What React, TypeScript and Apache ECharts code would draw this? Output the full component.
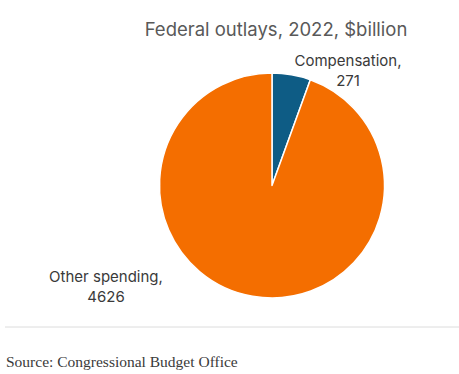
import React, { useEffect, useRef } from "react";
import * as echarts from "echarts";

const categories = ["Compensation", "Other spending"];
const values = [271, 4626];
const colors = ["#0E5C85", "#F46E00"];
const titleText = "Federal outlays, 2022, $billion";
const sourceText = "Source: Congressional Budget Office";
const labelPositions = [
  [348, 70],
  [106, 286],
];

export default function App() {
  const ref = useRef<HTMLDivElement>(null);
  useEffect(() => {
    if (!ref.current) return;
    const chart = echarts.init(ref.current, null, { renderer: "svg" });
    chart.setOption({
      animation: false,
      backgroundColor: "#ffffff",
      title: {
        text: titleText,
        left: 271,
        top: 14,
        textAlign: "center",
        textStyle: {
          fontFamily: "Inter",
          fontWeight: "normal",
          fontSize: 18.5,
          color: "#595959",
        },
      },
      graphic: [
        {
          type: "line",
          shape: { x1: 5, y1: 327, x2: 459, y2: 327 },
          style: { stroke: "#dcdcdc", lineWidth: 1 },
        },
        {
          type: "text",
          left: 6,
          top: 353,
          style: {
            text: sourceText,
            fontFamily: "Liberation Serif",
            fontSize: 15.5,
            fill: "#3a3a3a",
          },
        },
      ],
      series: [
        {
          type: "pie",
          center: [272, 185.5],
          radius: [0, 112.5],
          startAngle: 90,
          clockwise: true,
          data: categories.map((c, i) => ({
            name: c,
            value: values[i],
            itemStyle: { color: colors[i] },
          })),
          itemStyle: { borderColor: "#ffffff", borderWidth: 1.5 },
          label: {
            show: true,
            position: "outside",
            formatter: "{b},\n{c}",
            fontFamily: "Inter",
            fontSize: 15,
            lineHeight: 20,
            color: "#3a3a3a",
            align: "center",
          },
          labelLine: { show: false },
          labelLayout: (params: any) => {
            const p = labelPositions[params.dataIndex];
            return { x: p[0], y: p[1], align: "center", verticalAlign: "middle" };
          },
          emphasis: { disabled: true },
        },
      ],
    });
    return () => chart.dispose();
  }, []);
  return (
    <div
      ref={ref}
      style={{ position: "fixed", left: 0, top: 0, width: 459, height: 374 }}
    />
  );
}
